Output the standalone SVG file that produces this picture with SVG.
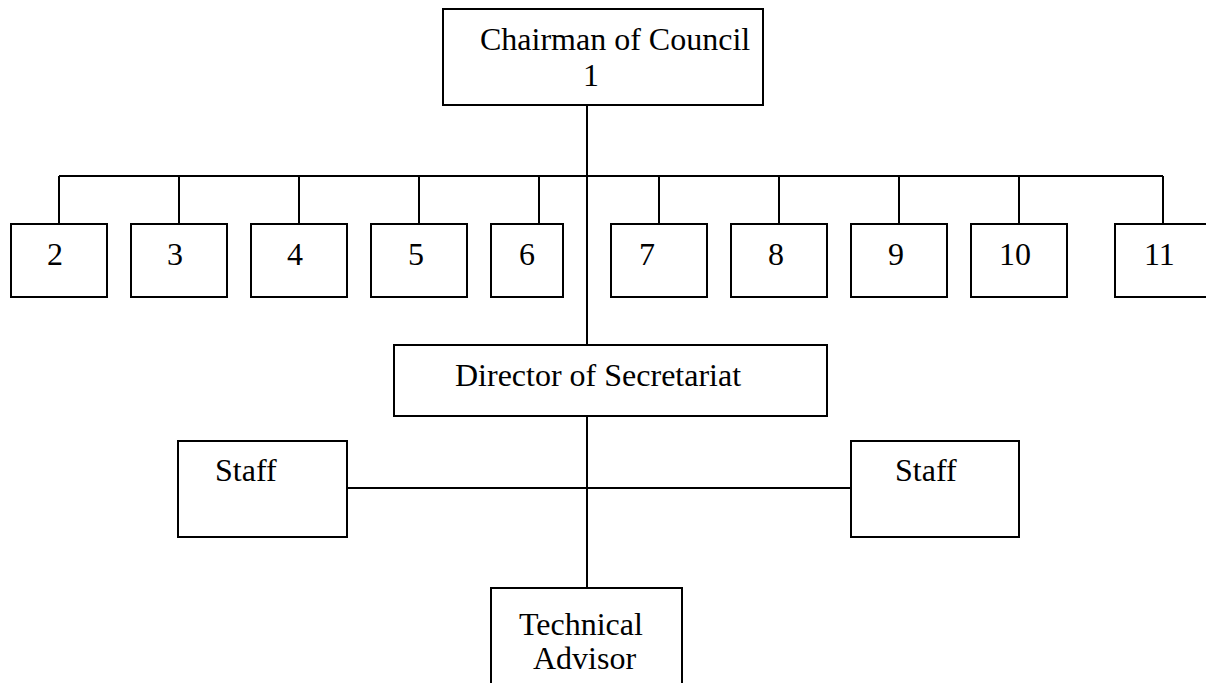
<svg xmlns="http://www.w3.org/2000/svg" width="1206" height="683" viewBox="0 0 1206 683">
<style>
.box{fill:#fff;stroke:#000;stroke-width:2}
.ln{stroke:#000;stroke-width:2;fill:none}
text{font-family:"Liberation Serif","Times New Roman",serif;font-size:32px;fill:#000}
</style>
<rect width="1206" height="683" fill="#fff"/>
<g id="connectors">
<path class="ln" d="M587 105V345M587 416V588M59 176H1163M59 176V224M179 176V224M299 176V224M419 176V224M539 176V224M659 176V224M779 176V224M899 176V224M1019 176V224M1163 176V224M347 488H851"/>
</g>
<g id="n1"><rect class="box" x="443" y="9" width="320" height="96"/><text x="480" y="50">Chairman of Council</text><text x="583" y="86">1</text></g>
<g id="n2"><rect class="box" x="11" y="224" width="96" height="73"/><text x="47" y="265">2</text></g>
<g id="n3"><rect class="box" x="131" y="224" width="96" height="73"/><text x="167" y="265">3</text></g>
<g id="n4"><rect class="box" x="251" y="224" width="96" height="73"/><text x="287" y="265">4</text></g>
<g id="n5"><rect class="box" x="371" y="224" width="96" height="73"/><text x="408" y="265">5</text></g>
<g id="n6"><rect class="box" x="491" y="224" width="72" height="73"/><text x="519" y="265">6</text></g>
<g id="n7"><rect class="box" x="611" y="224" width="96" height="73"/><text x="639" y="265">7</text></g>
<g id="n8"><rect class="box" x="731" y="224" width="96" height="73"/><text x="768" y="265">8</text></g>
<g id="n9"><rect class="box" x="851" y="224" width="96" height="73"/><text x="888" y="265">9</text></g>
<g id="n10"><rect class="box" x="971" y="224" width="96" height="73"/><text x="999" y="265">10</text></g>
<g id="n11"><rect class="box" x="1115" y="224" width="96" height="73"/><text x="1144" y="265">11</text></g>
<g id="director"><rect class="box" x="394" y="345" width="433" height="71"/><text x="455" y="386">Director of Secretariat</text></g>
<g id="staff-left"><rect class="box" x="178" y="441" width="169" height="96"/><text x="215" y="481">Staff</text></g>
<g id="staff-right"><rect class="box" x="851" y="441" width="168" height="96"/><text x="895" y="481">Staff</text></g>
<g id="tech"><rect class="box" x="491" y="588" width="191" height="120"/><text x="519" y="635">Technical</text><text x="533" y="669">Advisor</text></g>
</svg>
